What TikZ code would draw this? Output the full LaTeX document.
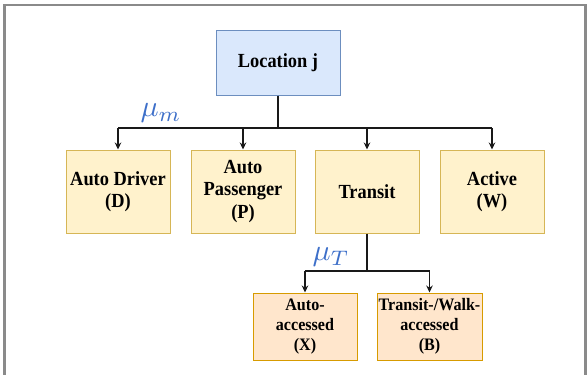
\documentclass[tikz,border=0pt]{standalone}
\usepackage{fontspec}
\setmainfont{Liberation Serif}[FakeStretch=0.92]
\usetikzlibrary{arrows.meta}
\definecolor{locfill}{HTML}{DAE8FC}
\definecolor{locdraw}{HTML}{6C8EBF}
\definecolor{yfill}{HTML}{FFF2CC}
\definecolor{ydraw}{HTML}{D6B656}
\definecolor{ofill}{HTML}{FFE6CC}
\definecolor{odraw}{HTML}{D79B00}
\definecolor{mublue}{HTML}{3D6FC9}
\definecolor{framegray}{HTML}{8A8A8A}
\begin{document}
\begin{tikzpicture}[x=1pt,y=-1pt,
  box/.style={draw, line width=1pt, align=center, inner sep=1pt,
    font=\fontsize{20}{22.5}\selectfont\bfseries},
  locbox/.style={box, fill=locfill, draw=locdraw, minimum width=124pt, minimum height=65pt},
  modebox/.style={box, fill=yfill, draw=ydraw, minimum width=104pt, minimum height=83pt},
  subbox/.style={box, fill=ofill, draw=odraw, minimum width=104pt, minimum height=67pt,
    font=\fontsize{17.5}{20}\selectfont\bfseries},
  conn/.style={draw=black!90, line width=1.1pt},
  arr/.style={conn, -{Stealth[length=7pt,width=6.5pt]}},
  mulabel/.style={text=mublue, inner sep=0pt, font=\normalsize}]
\useasboundingbox (0,0) rectangle (587,375);
\draw[framegray, line width=2.2pt] (4.5,376) -- (4.5,5) -- (585.5,5) -- (585.5,376);
\node[locbox] (loc) at (278,62.5) {Location j};
\node[modebox] (D) at (118,191.5) {Auto Driver\\(D)};
\node[modebox] (P) at (243,191.5) {Auto\\Passenger\\(P)};
\node[modebox] (T) at (367,191.5) {Transit};
\node[modebox] (W) at (492,191.5) {Active\\(W)};
\node[subbox] (X) at (305,326.5) {Auto-\\accessed\\(X)};
\node[subbox, minimum width=105pt] (B) at (429.5,326.5) {Transit-/Walk-\\accessed\\(B)};
\coordinate (j1) at (278,128);
\coordinate (t1) at (367,271);
\draw[conn] (loc.south) -- (j1);
\draw[conn] (D.north |- j1) -- (W.north |- j1);
\foreach \n in {D,P,T,W} \draw[arr] (\n.north |- j1) -- (\n.north);
\draw[conn] (T.south) -- (t1);
\draw[conn] (X.north |- t1) -- (B.north |- t1);
\foreach \n in {X,B} \draw[arr] (\n.north |- t1) -- (\n.north);
\node[mulabel] (mum) at (161,113) {\scalebox{3.0}{$\mu_m$}};
\node[mulabel] (mut) at (331,257) {\scalebox{3.0}{$\mu_T$}};
\end{tikzpicture}
\end{document}
